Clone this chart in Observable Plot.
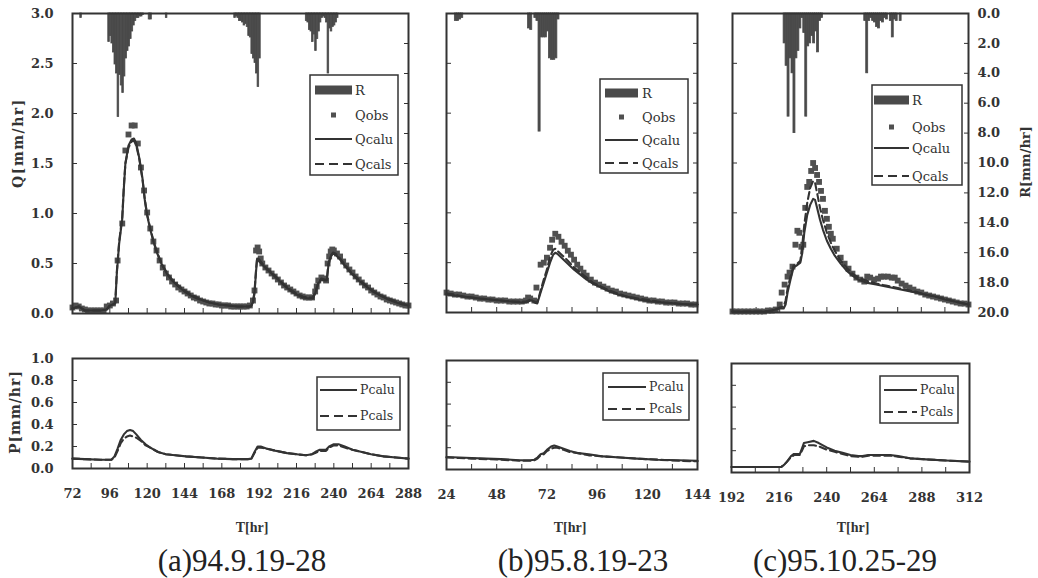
<!DOCTYPE html>
<html><head><meta charset="utf-8">
<script src="https://cdn.jsdelivr.net/npm/d3@7"></script>
<script src="https://cdn.jsdelivr.net/npm/@observablehq/plot@0.6"></script>
<style>
body{margin:0;background:#fff;}
#chart{position:relative;width:1038px;height:578px;overflow:hidden;font-family:"DejaVu Serif",serif;color:#333;background:#fff;}
#chart svg{position:absolute;left:0;top:0;}
.lbl{position:absolute;white-space:nowrap;transform:translate(-50%,-50%);line-height:1;}
</style></head><body><div id="chart"></div><script>
// ---------- tick labels ----------
const qTicks = [0, 0.5, 1.0, 1.5, 2.0, 2.5, 3.0];
const pTicks = [0, 0.2, 0.4, 0.6, 0.8, 1.0];
const rTicks = [0, 2, 4, 6, 8, 10, 12, 14, 16, 18, 20];
const xLabelsA = [72, 96, 120, 144, 168, 192, 216, 240, 264, 288];
const xLabelsB = [24, 48, 72, 96, 120, 144];
const xLabelsC = [192, 216, 240, 264, 288, 312];
const captions = ["(a)94.9.19-28", "(b)95.8.19-23", "(c)95.10.25-29"];

// ---------- rainfall R [mm/hr] (hour, value) ----------
const rainA = [[77,0.3],[95,1.9],[96,1.5],[97,2.0],[98,2.6],[99,3.4],[100,4.0],[101,6.9],[102,4.1],[103,4.8],[104,5.3],[105,4.2],[106,3.0],[107,2.5],[108,2.2],[109,1.7],[110,1.2],[111,0.8],[112,0.5],[113,0.3],[114,0.3],[115,0.2],[116,0.2],[117,0.1],[121,0.4],[122,0.4],[132,0.3],[176,0.3],[177,0.2],[178,0.3],[179,0.5],[180,0.5],[181,0.6],[182,0.8],[183,0.7],[184,0.9],[185,1.5],[186,1.6],[187,2.7],[188,3.0],[189,3.3],[190,4.0],[191,4.9],[192,3.0],[222,0.5],[223,0.6],[224,1.1],[225,1.2],[226,1.9],[227,1.4],[228,2.5],[229,1.7],[230,1.2],[231,0.6],[232,0.3],[233,0.2],[234,0.3],[235,0.6],[236,4.0],[237,1.0],[238,1.2],[239,0.9],[240,0.8],[241,0.6],[242,0.3]];
const rainB = [[28,0.5],[29,0.5],[30,0.4],[31,0.3],[63,1.0],[64,1.1],[66,0.3],[67,0.5],[68,7.9],[69,1.6],[70,1.6],[71,1.6],[72,1.2],[73,3.0],[74,3.1],[75,3.1],[76,3.0],[77,0.4]];
const rainC = [[218,2.0],[219,3.5],[220,6.9],[221,3.0],[222,4.0],[223,8.0],[224,3.0],[225,2.5],[226,1.0],[227,0.3],[228,1.3],[229,6.9],[230,2.2],[231,2.0],[232,1.5],[233,2.0],[234,1.2],[235,2.6],[236,0.5],[237,0.3],[259,0.5],[260,4.0],[261,0.5],[262,0.3],[263,0.5],[264,0.6],[265,0.9],[266,1.0],[267,0.5],[268,0.6],[269,0.3],[270,0.4],[272,0.5],[273,1.6],[274,0.4],[275,0.5],[277,0.5]];

// ---------- observed discharge Qobs [mm/hr] ----------
const obsA = [[72,0.06],[74,0.08],[76,0.07],[78,0.05],[80,0.04],[82,0.03],[84,0.03],[86,0.03],[88,0.03],[90,0.03],[92,0.03],[94,0.07],[96,0.08],[98,0.10],[100,0.13],[101,0.53],[104,0.90],[106,1.63],[108,1.79],[110,1.88],[112,1.88],[114,1.70],[116,1.46],[118,1.23],[120,1.01],[122,0.85],[124,0.72],[126,0.63],[128,0.53],[130,0.46],[132,0.40],[134,0.36],[136,0.32],[138,0.29],[140,0.26],[142,0.24],[144,0.22],[146,0.20],[148,0.18],[150,0.16],[152,0.15],[154,0.13],[156,0.12],[158,0.11],[160,0.10],[162,0.10],[164,0.09],[166,0.09],[168,0.08],[170,0.08],[172,0.08],[174,0.07],[176,0.07],[178,0.07],[180,0.07],[182,0.07],[184,0.07],[186,0.08],[188,0.13],[189,0.23],[190,0.63],[191,0.66],[192,0.62],[193,0.55],[194,0.50],[196,0.46],[198,0.43],[200,0.40],[202,0.37],[204,0.34],[206,0.31],[208,0.28],[210,0.26],[212,0.24],[214,0.22],[216,0.20],[218,0.18],[220,0.17],[222,0.16],[224,0.16],[226,0.16],[228,0.22],[229,0.27],[230,0.33],[232,0.36],[234,0.35],[235,0.33],[236,0.50],[237,0.57],[238,0.62],[239,0.64],[240,0.63],[242,0.60],[244,0.57],[246,0.52],[248,0.48],[250,0.44],[252,0.41],[254,0.37],[256,0.34],[258,0.31],[260,0.28],[262,0.26],[264,0.23],[266,0.21],[268,0.19],[270,0.17],[272,0.16],[274,0.14],[276,0.13],[278,0.12],[280,0.11],[282,0.10],[284,0.09],[286,0.08],[288,0.08]];
const obsB = [[24,0.20],[26,0.19],[28,0.18],[30,0.18],[32,0.17],[34,0.16],[36,0.16],[38,0.15],[40,0.14],[42,0.14],[44,0.13],[46,0.13],[48,0.12],[50,0.12],[52,0.12],[54,0.11],[56,0.11],[58,0.11],[60,0.11],[62,0.12],[63,0.15],[64,0.14],[66,0.12],[67,0.25],[69,0.48],[70.5,0.50],[72,0.55],[73.5,0.65],[74.5,0.73],[76,0.79],[77.5,0.76],[79,0.71],[80.5,0.67],[82,0.62],[83.5,0.58],[85,0.53],[86.5,0.48],[88,0.44],[89.5,0.40],[91,0.37],[93,0.33],[95,0.30],[97,0.28],[99,0.26],[101,0.24],[103,0.22],[105,0.21],[107,0.19],[109,0.18],[111,0.17],[113,0.16],[115,0.15],[117,0.14],[119,0.13],[121,0.12],[123,0.12],[125,0.11],[127,0.11],[129,0.10],[131,0.10],[133,0.10],[135,0.09],[137,0.09],[139,0.09],[141,0.08],[143,0.08]];
const obsC = [[192,0.01],[194,0.01],[196,0.01],[198,0.01],[200,0.01],[202,0.01],[204,0.01],[206,0.01],[208,0.01],[210,0.02],[212,0.02],[214,0.03],[216,0.08],[217,0.20],[218.5,0.28],[220,0.36],[221,0.40],[222.5,0.46],[224,0.68],[225,0.82],[226,0.80],[227,0.66],[228,0.68],[229,1.05],[230,1.26],[231,1.31],[232,1.42],[233,1.50],[234,1.45],[235,1.38],[236,1.31],[237,1.22],[238,1.14],[239,1.02],[240,0.94],[241,0.86],[242,0.79],[243,0.74],[245,0.64],[247,0.55],[249,0.49],[251,0.44],[253,0.39],[255,0.35],[257,0.33],[259,0.31],[260.5,0.36],[262,0.35],[264,0.33],[266,0.34],[267.5,0.36],[269,0.36],[271,0.36],[273,0.35],[274.5,0.35],[276,0.32],[278,0.29],[280,0.27],[282,0.25],[284,0.23],[286,0.21],[288,0.20],[290,0.18],[292,0.17],[294,0.16],[296,0.15],[298,0.14],[300,0.13],[302,0.12],[304,0.11],[306,0.10],[308,0.09],[310,0.09],[312,0.08]];

// ---------- calculated discharge Qcalu / Qcals ----------
const qcaluA = [[72,0.05],[74,0.06],[76,0.07],[78,0.05],[80,0.03],[90,0.03],[94,0.04],[96,0.08],[98,0.09],[99.5,0.10],[100.5,0.40],[102,0.70],[104,0.95],[105,1.25],[106,1.50],[108,1.68],[110,1.74],[111.5,1.75],[113,1.70],[115,1.55],[117,1.35],[118.5,1.13],[120,0.98],[122,0.84],[124,0.72],[126,0.62],[128,0.54],[130,0.47],[133,0.39],[136,0.33],[140,0.27],[144,0.22],[148,0.18],[152,0.15],[156,0.13],[160,0.11],[166,0.09],[172,0.08],[178,0.07],[186,0.07],[187,0.08],[188,0.11],[189,0.20],[190,0.42],[190.7,0.55],[192,0.52],[194,0.49],[197,0.44],[200,0.40],[204,0.34],[208,0.28],[212,0.23],[216,0.19],[220,0.16],[224,0.15],[226.5,0.15],[228,0.20],[230,0.30],[232,0.34],[234,0.33],[235.5,0.33],[236.5,0.48],[238,0.57],[239.5,0.60],[241,0.59],[244,0.54],[248,0.46],[252,0.39],[256,0.33],[260,0.28],[265,0.22],[270,0.18],[275,0.14],[280,0.11],[284,0.09],[288,0.08]];
const qcalsA = [[72,0.05],[74,0.06],[76,0.07],[78,0.05],[80,0.03],[90,0.03],[94,0.04],[96,0.08],[98,0.09],[99.5,0.11],[100.5,0.42],[102,0.72],[104,0.97],[105,1.27],[106,1.50],[108,1.66],[110,1.72],[111.5,1.73],[113,1.68],[115,1.54],[117,1.34],[118.5,1.14],[120,0.99],[122,0.85],[124,0.73],[126,0.63],[128,0.55],[130,0.48],[133,0.40],[136,0.34],[140,0.28],[144,0.23],[148,0.19],[152,0.16],[156,0.13],[160,0.11],[166,0.09],[172,0.08],[178,0.07],[186,0.07],[187,0.08],[188,0.12],[189,0.22],[190,0.44],[190.7,0.56],[192,0.54],[194,0.50],[197,0.45],[200,0.41],[204,0.35],[208,0.29],[212,0.24],[216,0.20],[220,0.17],[224,0.16],[226.5,0.16],[228,0.21],[230,0.31],[232,0.35],[234,0.34],[235.5,0.34],[236.5,0.50],[238,0.58],[239.5,0.61],[241,0.60],[244,0.55],[248,0.47],[252,0.40],[256,0.34],[260,0.29],[265,0.23],[270,0.18],[275,0.15],[280,0.12],[284,0.10],[288,0.08]];
const qcaluB = [[24,0.18],[28,0.17],[32,0.16],[36,0.15],[40,0.14],[45,0.13],[50,0.12],[55,0.11],[60,0.10],[62,0.10],[64,0.12],[65,0.12],[66,0.10],[67.4,0.09],[69,0.20],[70.5,0.30],[72,0.40],[73.5,0.50],[75,0.58],[76,0.60],[77,0.59],[79,0.55],[82,0.49],[85,0.43],[88,0.38],[91,0.33],[94,0.29],[98,0.25],[102,0.21],[106,0.18],[110,0.16],[116,0.13],[122,0.11],[128,0.10],[134,0.09],[140,0.08],[144,0.08]];
const qcalsB = [[24,0.19],[28,0.18],[32,0.16],[36,0.15],[40,0.14],[45,0.13],[50,0.12],[55,0.11],[60,0.11],[62,0.11],[64,0.13],[65,0.12],[66,0.11],[67.4,0.10],[69,0.22],[70.5,0.33],[72,0.43],[73.5,0.56],[75,0.63],[76,0.64],[77,0.62],[79,0.58],[82,0.52],[85,0.45],[88,0.40],[91,0.35],[94,0.30],[98,0.26],[102,0.22],[106,0.19],[110,0.16],[116,0.14],[122,0.12],[128,0.10],[134,0.09],[140,0.08],[144,0.08]];
const qcaluC = [[192,0.01],[200,0.01],[208,0.01],[212,0.02],[214,0.03],[216,0.04],[218,0.04],[219,0.08],[220,0.20],[221.5,0.33],[223,0.45],[224.5,0.47],[226.5,0.50],[227.5,0.60],[228.5,0.80],[230,0.98],[231.5,1.08],[233,1.14],[234,1.13],[235,1.05],[236.5,0.93],[238,0.83],[240,0.72],[242,0.64],[244,0.57],[247,0.49],[250,0.42],[253,0.37],[256,0.33],[260,0.30],[265,0.28],[270,0.26],[275,0.24],[280,0.22],[285,0.20],[290,0.18],[295,0.16],[300,0.13],[305,0.11],[312,0.08]];
const qcalsC = [[192,0.01],[200,0.01],[208,0.01],[212,0.02],[214,0.03],[216,0.05],[218,0.06],[219,0.12],[220,0.24],[221.5,0.36],[223,0.47],[224.5,0.48],[226.5,0.52],[227.5,0.68],[228.5,0.88],[230,1.10],[231.5,1.25],[233,1.32],[234,1.30],[235,1.20],[236.5,1.05],[238,0.93],[240,0.80],[242,0.70],[244,0.62],[247,0.52],[250,0.45],[253,0.39],[256,0.35],[260,0.32],[265,0.29],[270,0.27],[275,0.25],[280,0.23],[285,0.21],[290,0.18],[295,0.16],[300,0.14],[305,0.11],[312,0.08]];

// ---------- calculated P [mm/hr] ----------
const pcaluA = [[72,0.09],[80,0.085],[90,0.08],[97,0.08],[99,0.11],[101,0.18],[103,0.26],[105,0.31],[107,0.34],[109,0.35],[111,0.34],[113,0.31],[116,0.26],[119,0.22],[122,0.19],[127,0.15],[132,0.13],[138,0.12],[145,0.11],[155,0.10],[165,0.09],[175,0.085],[185,0.085],[187,0.09],[189,0.15],[191,0.20],[193,0.20],[197,0.18],[203,0.16],[210,0.14],[216,0.13],[222,0.12],[226,0.13],[228,0.15],[231,0.17],[235,0.17],[237,0.20],[240,0.22],[243,0.22],[247,0.20],[252,0.17],[258,0.15],[264,0.13],[272,0.11],[280,0.10],[288,0.09]];
const pcalsA = [[72,0.09],[80,0.085],[90,0.08],[97,0.08],[99,0.10],[101,0.16],[103,0.23],[105,0.27],[107,0.29],[109,0.30],[111,0.29],[113,0.28],[116,0.25],[119,0.21],[122,0.19],[127,0.15],[132,0.13],[138,0.12],[145,0.11],[155,0.10],[165,0.09],[175,0.085],[185,0.085],[187,0.09],[189,0.14],[191,0.19],[193,0.19],[197,0.18],[203,0.16],[210,0.14],[216,0.13],[222,0.12],[226,0.13],[228,0.14],[231,0.16],[235,0.16],[237,0.19],[240,0.21],[243,0.21],[247,0.19],[252,0.17],[258,0.15],[264,0.13],[272,0.11],[280,0.10],[288,0.09]];
const pcaluB = [[24,0.115],[30,0.11],[36,0.105],[43,0.10],[50,0.095],[55,0.09],[59,0.085],[64,0.085],[66,0.09],[67.5,0.11],[69,0.14],[70.5,0.15],[72,0.18],[74,0.21],[75.5,0.22],[77,0.21],[80,0.19],[83,0.17],[87,0.15],[92,0.14],[99,0.12],[107,0.11],[115,0.10],[125,0.09],[135,0.085],[144,0.08]];
const pcalsB = [[24,0.11],[30,0.105],[36,0.10],[43,0.095],[50,0.09],[55,0.085],[59,0.08],[64,0.08],[66,0.085],[67.5,0.10],[69,0.13],[70.5,0.14],[72,0.17],[74,0.19],[75.5,0.20],[77,0.20],[80,0.18],[83,0.16],[87,0.15],[92,0.13],[99,0.12],[107,0.11],[115,0.10],[125,0.09],[135,0.08],[144,0.075]];
const pcaluC = [[192,0.05],[200,0.05],[210,0.05],[217,0.05],[218.5,0.07],[220,0.10],[222,0.15],[223.5,0.17],[226.5,0.17],[227.5,0.22],[228.5,0.27],[231,0.28],[233.5,0.29],[236,0.27],[240,0.23],[244,0.20],[248,0.18],[252,0.16],[256,0.15],[258,0.15],[261,0.16],[266,0.16],[272,0.16],[276,0.15],[282,0.13],[290,0.12],[300,0.11],[312,0.10]];
const pcalsC = [[192,0.05],[200,0.05],[210,0.05],[217,0.05],[218.5,0.07],[220,0.10],[222,0.14],[223.5,0.16],[226.5,0.16],[227.5,0.20],[228.5,0.24],[231,0.25],[233.5,0.25],[236,0.24],[240,0.21],[244,0.19],[248,0.17],[252,0.15],[256,0.145],[258,0.145],[261,0.155],[266,0.155],[272,0.155],[276,0.145],[282,0.13],[290,0.12],[300,0.11],[312,0.10]];

// ---------- layout ----------
const W = 1038, H = 578, ink = "#333";
const panels = [
  {id:"a", dom:[72,288], xl:xLabelsA, rain:rainA, obs:obsA, qu:qcaluA, qs:qcalsA, pu:pcaluA, ps:pcalsA,
   top:{x0:72,x1:408,y0:13,y1:313}, bot:{x0:72,x1:408,y0:358,y1:468},
   legT:{x:310,y:75,w:88,h:100,s0:315,s1:352,tx:355,rows:[90,115,139,164]},
   legB:{x:317,y:377,w:83,h:53,s0:320,s1:357,tx:360,rows:[390,416]},
   tlab:[252,528], cap:[242,560]},
  {id:"b", dom:[24,144], xl:xLabelsB, rain:rainB, obs:obsB, qu:qcaluB, qs:qcalsB, pu:pcaluB, ps:pcalsB,
   top:{x0:446,x1:697,y0:13,y1:312}, bot:{x0:446,x1:697,y0:360,y1:469},
   legT:{x:600,y:79,w:88,h:94,s0:605,s1:638,tx:642,rows:[93,117,140,163]},
   legB:{x:603,y:373,w:86,h:47,s0:608,s1:646,tx:649,rows:[387,409]},
   tlab:[570,528], cap:[583,560]},
  {id:"c", dom:[192,312], xl:xLabelsC, rain:rainC, obs:obsC, qu:qcaluC, qs:qcalsC, pu:pcaluC, ps:pcalsC,
   top:{x0:732,x1:968,y0:13,y1:312}, bot:{x0:731,x1:969,y0:363,y1:472},
   legT:{x:872,y:85,w:90,h:100,s0:874,s1:909,tx:912,rows:[100,127,148,176]},
   legB:{x:880,y:376,w:78,h:47,s0:884,s1:917,tx:920,rows:[390,412]},
   tlab:[853,528], cap:[845,560]}
];

const chart = document.getElementById("chart");
const fx = d => d[0], fy = d => d[1];
const svgStyle = {background:"transparent", fontFamily:"DejaVu Serif", fontSize:"13px", fontWeight:"bold", color:ink, overflow:"visible"};

function mk(b, xdom, ydom, rev, marks) {
  const s = Plot.plot({
    width: W, height: H,
    marginLeft: b.x0, marginRight: W - b.x1, marginTop: b.y0, marginBottom: H - b.y1,
    x: {domain: xdom, axis: null},
    y: {domain: ydom, reverse: rev, axis: null},
    style: svgStyle,
    marks
  });
  chart.appendChild(s);
}

const blank = () => "";

panels.forEach(p => {
  const minor = d3.range(p.dom[0], p.dom[1] + 0.1, 12);
  // rainfall overlay (inverted R axis)
  const rMarks = [
    Plot.rectY(p.rain, {x: fx, y: fy, interval: 1, inset: 0, insetLeft: 0, insetRight: 0, fill: "#4a4a4a", stroke: "#4a4a4a", strokeWidth: 0.8}),
    Plot.axisY({anchor: "right", ticks: rTicks, tickSize: 5, dx: -5, tickFormat: blank, stroke: ink})
  ];
  if (p.id === "c") rMarks.push(Plot.axisY({anchor: "right", ticks: rTicks, tickSize: 0, tickPadding: 9, tickFormat: d => d.toFixed(1)}));
  mk(p.top, p.dom, [0, 20], true, rMarks);

  // discharge panel
  const qMarks = [
    Plot.axisX({anchor: "bottom", ticks: minor, tickSize: 5, dy: -5, tickFormat: blank, stroke: ink}),
    Plot.axisY({anchor: "left", ticks: qTicks, tickSize: 5, dx: 5, tickFormat: blank, stroke: ink}),
    Plot.dot(p.obs, {x: fx, y: fy, symbol: "square", r: 3.3, fill: "#505050"}),
    Plot.line(p.qu, {x: fx, y: fy, stroke: ink, strokeWidth: 2.1}),
    Plot.line(p.qs, {x: fx, y: fy, stroke: ink, strokeWidth: 2.1, strokeDasharray: "7,4"}),
    Plot.frame({stroke: ink, strokeWidth: 2})
  ];
  if (p.id === "a") qMarks.push(Plot.axisY({anchor: "left", ticks: qTicks, tickSize: 0, tickPadding: 19, tickFormat: d => d.toFixed(1)}));
  mk(p.top, p.dom, [0, 3], false, qMarks);

  // P panel
  const pMarks = [
    Plot.axisX({anchor: "bottom", ticks: minor, tickSize: 5, dy: -5, tickFormat: blank, stroke: ink}),
    Plot.axisY({anchor: "left", ticks: pTicks, tickSize: 5, dx: 5, tickFormat: blank, stroke: ink}),
    Plot.line(p.pu, {x: fx, y: fy, stroke: ink, strokeWidth: 2.1}),
    Plot.line(p.ps, {x: fx, y: fy, stroke: ink, strokeWidth: 2.1, strokeDasharray: "7,4"}),
    Plot.frame({stroke: ink, strokeWidth: 2}),
    Plot.axisX({anchor: "bottom", ticks: p.xl, tickSize: 0, tickPadding: 20, tickFormat: d => String(d)})
  ];
  if (p.id === "a") pMarks.push(Plot.axisY({anchor: "left", ticks: pTicks, tickSize: 0, tickPadding: 19, tickFormat: d => d.toFixed(1)}));
  mk(p.bot, p.dom, [0, 1], false, pMarks);

  // legends
  legend(p.legT, ["R", "Qobs", "Qcalu", "Qcals"], ["bar", "sq", "line", "dash"], 13);
  legend(p.legB, ["Pcalu", "Pcals"], ["line", "dash"], 12.5);

  label("T[hr]", p.tlab[0], p.tlab[1], "font-family:'Liberation Serif';font-weight:bold;font-size:14px;");
  label(captions[panels.indexOf(p)], p.cap[0], p.cap[1], "font-family:'Liberation Serif';font-size:31px;color:#222;");
});

function legend(L, names, kinds, fs) {
  const ns = "http://www.w3.org/2000/svg";
  const svg = document.createElementNS(ns, "svg");
  svg.setAttribute("width", W); svg.setAttribute("height", H);
  let h = `<rect x="${L.x}" y="${L.y}" width="${L.w}" height="${L.h}" fill="#fff" stroke="${ink}" stroke-width="1.5"/>`;
  names.forEach((n, i) => {
    const y = L.rows[i], k = kinds[i], cx = (L.s0 + L.s1) / 2;
    if (k === "bar") h += `<rect x="${L.s0}" y="${y-4.5}" width="${L.s1-L.s0}" height="9" fill="#4a4a4a"/>`;
    if (k === "sq") h += `<rect x="${cx-2.5}" y="${y-2.5}" width="5" height="5" fill="#505050"/>`;
    if (k === "line") h += `<line x1="${L.s0}" x2="${L.s1}" y1="${y}" y2="${y}" stroke="${ink}" stroke-width="2"/>`;
    if (k === "dash") h += `<line x1="${L.s0}" x2="${L.s1}" y1="${y}" y2="${y}" stroke="${ink}" stroke-width="2" stroke-dasharray="9,5"/>`;
    h += `<text x="${L.tx}" y="${y}" dy="0.35em" font-family="DejaVu Serif" font-size="${fs}" fill="${ink}">${n}</text>`;
  });
  svg.innerHTML = h;
  chart.appendChild(svg);
}

function label(text, x, y, css, rot) {
  const d = document.createElement("div");
  d.className = "lbl";
  d.textContent = text;
  d.style.cssText = `left:${x}px;top:${y}px;${css}` + (rot ? `transform:translate(-50%,-50%) rotate(${rot}deg);` : "");
  chart.appendChild(d);
}

label("Q[mm/hr]", 18, 143, "font-weight:bold;font-size:14px;letter-spacing:1.5px;", -90);
label("P[mm/hr]", 15, 412, "font-weight:bold;font-size:14px;letter-spacing:1px;", -90);
label("R[mm/hr]", 1025, 162, "font-weight:bold;font-size:13px;", -90);
</script></body></html>
